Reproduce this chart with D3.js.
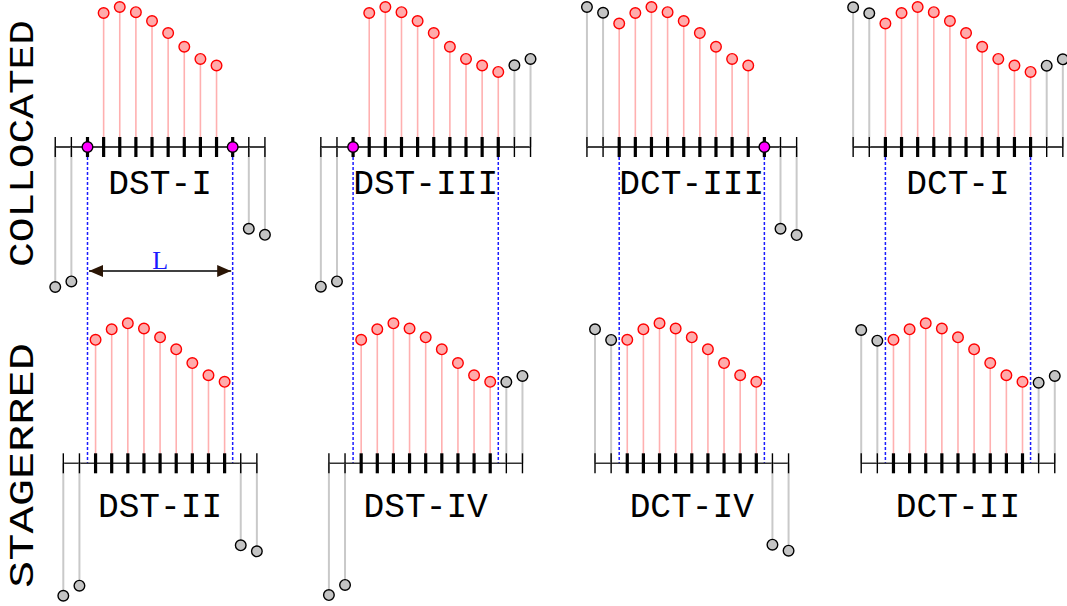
<!DOCTYPE html>
<html><head><meta charset="utf-8">
<script src="https://cdn.jsdelivr.net/npm/d3@7"></script>
<style>html,body{margin:0;padding:0;background:#fff;}svg{display:block;}</style>
</head><body>
<svg id="chart" width="1067" height="606"></svg>
<script>
// ---------- data ----------
const rowLabels = ["COLLOCATED", "STAGERRED"];
const topNames = ["DST-I", "DST-III", "DCT-III", "DCT-I"];
const bottomNames = ["DST-II", "DST-IV", "DCT-IV", "DCT-II"];
// underlying signal samples f0..f9 (normalised)
const signal = [0.882, 0.957, 1.0, 0.963, 0.9, 0.814, 0.716, 0.629, 0.582, 0.536];
// collocated (top) grid positions
const topTicks = [-2, -1, 0, 1, 2, 3, 4, 5, 6, 7, 8, 9, 10, 11];
const topRedFirst = [1, 1, 0, 0];
const topRedLast = [8, 9, 8, 9];
const topLeftPos = [-2, -1];
const topLeftExt = [[-1.0, -0.96], [-0.998, -0.96], [1.0, 0.959], [0.998, 0.955]];
const topRightPos = [10, 11];
const topRightExt = [[-0.584, -0.627], [0.584, 0.629], [-0.584, -0.629], [0.581, 0.626]];
const topMagenta = [[0, 9], [0], [9], []];
// staggered (bottom) grid positions
const bottomTicks = [-1.5, -0.5, 0.5, 1.5, 2.5, 3.5, 4.5, 5.5, 6.5, 7.5, 8.5, 9.5, 10.5];
const bottomRedPos = [0.5, 1.5, 2.5, 3.5, 4.5, 5.5, 6.5, 7.5, 8.5];
const bottomLeftPos = [-1.5, -0.5];
const bottomLeftExt = [[-0.946, -0.874], [-0.941, -0.869], [0.957, 0.881], [0.952, 0.876]];
const bottomRightPos = [9.5, 10.5];
const bottomRightExt = [[-0.586, -0.629], [0.581, 0.624], [-0.581, -0.624], [0.576, 0.624]];
const boundaryPos = [0, 9];
const lengthLabel = "L";

// ---------- layout ----------
const svg = d3.select("#chart");
const panelOrigins = [87.5, 353.1, 619.2, 885.4];
const unit = 16.13;
const topAxisY = 147, bottomAxisY = 463.3, amp = 140;
const R = 5.3;

function xScaleFor(i) {
  return d3.scaleLinear().domain([0, 9]).range([panelOrigins[i], panelOrigins[i] + 9 * unit]);
}
const yTop = d3.scaleLinear().domain([-1, 1]).range([topAxisY + amp, topAxisY - amp]);
const yBot = d3.scaleLinear().domain([-1, 1]).range([bottomAxisY + amp, bottomAxisY - amp]);

const gDash = svg.append("g");
const gAxis = svg.append("g");
const gStem = svg.append("g");
const gTick = svg.append("g");
const gPt = svg.append("g");
const gText = svg.append("g");

function drawPanel(x, y, axisY, ticks, thickRange, points, magenta, name, labelY, axisColor) {
  gAxis.append("line")
    .attr("x1", x(d3.min(ticks))).attr("x2", x(d3.max(ticks)))
    .attr("y1", axisY).attr("y2", axisY)
    .attr("stroke", axisColor).attr("stroke-width", 1.4);
  gStem.selectAll(null).data(points).enter().append("line")
    .attr("x1", d => x(d.t)).attr("x2", d => x(d.t))
    .attr("y1", y(0)).attr("y2", d => y(d.v))
    .attr("stroke", d => d.red ? "#ffb0b0" : "#c9c9c9")
    .attr("stroke-width", d => d.red ? 1.6 : 2);
  gTick.selectAll(null).data(ticks).enter().append("line")
    .attr("x1", d => x(d)).attr("x2", d => x(d))
    .attr("y1", axisY - 10).attr("y2", axisY + 10)
    .attr("stroke", "#000")
    .attr("stroke-width", d => (d >= thickRange[0] && d <= thickRange[1]) ? 3.2 : 1.4);
  gPt.selectAll(null).data(points).enter().append("circle")
    .attr("cx", d => x(d.t)).attr("cy", d => y(d.v)).attr("r", R)
    .attr("fill", d => d.red ? "#ffabab" : "#c4c4c4")
    .attr("stroke", d => d.red ? "#ff0000" : "#000")
    .attr("stroke-width", 1.4);
  gPt.selectAll(null).data(magenta).enter().append("circle")
    .attr("cx", d => x(d)).attr("cy", y(0)).attr("r", R)
    .attr("fill", "#ff00ff").attr("stroke", "#000").attr("stroke-width", 1.4);
  gText.append("text")
    .attr("x", x(4.5)).attr("y", labelY)
    .attr("text-anchor", "middle")
    .attr("font-family", "'Liberation Mono', 'DejaVu Sans Mono', monospace")
    .attr("font-size", 34.5)
    .attr("fill", "#000")
    .text(name);
}

for (let i = 0; i < 4; i++) {
  const x = xScaleFor(i);
  gDash.selectAll(null).data(boundaryPos).enter().append("line")
    .attr("x1", d => x(d)).attr("x2", d => x(d))
    .attr("y1", topAxisY).attr("y2", bottomAxisY)
    .attr("stroke", "#1a1aff").attr("stroke-width", 1.5)
    .attr("stroke-dasharray", "3,2");

  const tp = [];
  topLeftPos.forEach((t, j) => tp.push({ t, v: topLeftExt[i][j], red: false }));
  for (let k = topRedFirst[i]; k <= topRedLast[i]; k++) tp.push({ t: k, v: signal[k], red: true });
  topRightPos.forEach((t, j) => tp.push({ t, v: topRightExt[i][j], red: false }));
  drawPanel(x, yTop, topAxisY, topTicks, [0, 9], tp, topMagenta[i], topNames[i], 193.5, "#000");

  const bp = [];
  bottomLeftPos.forEach((t, j) => bp.push({ t, v: bottomLeftExt[i][j], red: false }));
  bottomRedPos.forEach((t, k) => bp.push({ t, v: signal[k], red: true }));
  bottomRightPos.forEach((t, j) => bp.push({ t, v: bottomRightExt[i][j], red: false }));
  drawPanel(x, yBot, bottomAxisY, bottomTicks, [0.5, 8.5], bp, [], bottomNames[i], 517, "#333");
}

// length arrow in first column
const x0 = xScaleFor(0);
const defs = svg.append("defs");
defs.append("marker").attr("id", "ah").attr("viewBox", "0 0 14 12")
  .attr("refX", 14).attr("refY", 6).attr("markerWidth", 14).attr("markerHeight", 12)
  .attr("markerUnits", "userSpaceOnUse").attr("orient", "auto-start-reverse")
  .append("path").attr("d", "M0,0 L14,6 L0,12 Z").attr("fill", "#2a1505");
gText.append("line")
  .attr("x1", x0(0) + 1.5).attr("x2", x0(9) - 1.5)
  .attr("y1", 271).attr("y2", 271)
  .attr("stroke", "#000").attr("stroke-width", 1.5)
  .attr("marker-start", "url(#ah)").attr("marker-end", "url(#ah)");
gText.append("text")
  .attr("x", x0(4.5)).attr("y", 268.5)
  .attr("text-anchor", "middle")
  .attr("font-family", "'Liberation Serif', 'DejaVu Serif', serif")
  .attr("font-size", 26).attr("fill", "#1a1aff")
  .text(lengthLabel);

// row labels (rotated)
const rowCenters = [143.5, 465.5];
const rowLens = [247, 245];
rowLabels.forEach((lab, i) => {
  gText.append("text")
    .attr("transform", `translate(33,${rowCenters[i]}) rotate(-90)`)
    .attr("text-anchor", "middle")
    .attr("font-family", "'Liberation Mono', 'DejaVu Sans Mono', monospace")
    .attr("font-size", 35)
    .attr("textLength", rowLens[i]).attr("lengthAdjust", "spacingAndGlyphs")
    .attr("fill", "#000")
    .text(lab);
});
</script>
</body></html>
